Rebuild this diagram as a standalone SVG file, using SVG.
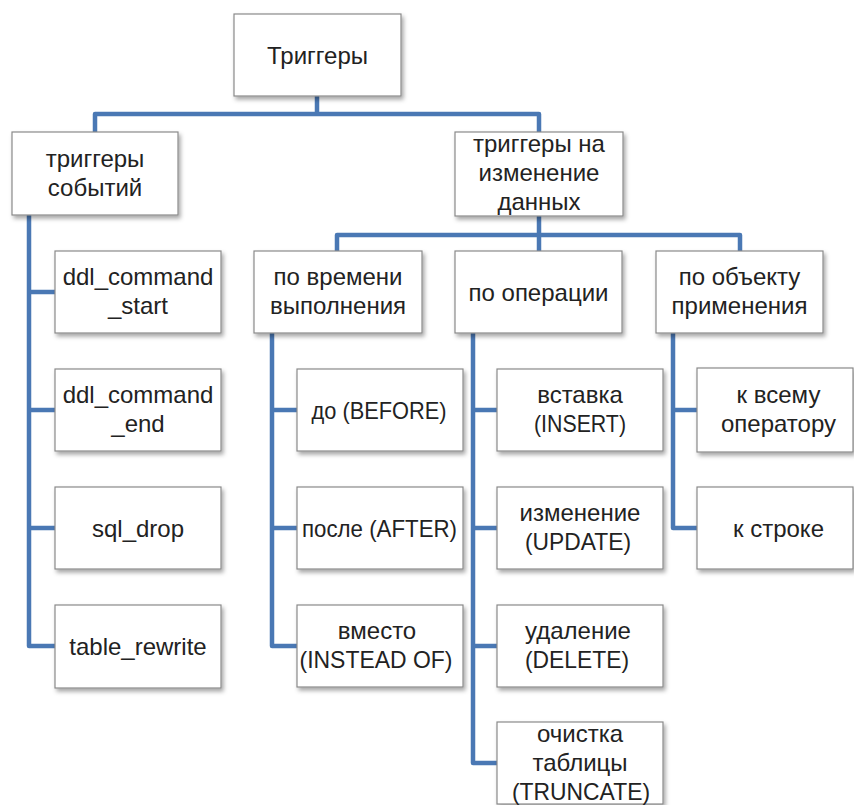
<svg xmlns="http://www.w3.org/2000/svg" width="854" height="805" viewBox="0 0 854 805">
  <defs>
    <filter id="shadow" x="-10%" y="-10%" width="130%" height="140%">
      <feDropShadow dx="2" dy="3" stdDeviation="2" flood-color="#000" flood-opacity="0.35"/>
    </filter>
  </defs>
  <style>
    .box { fill: #ffffff; stroke: #8a8a8a; stroke-width: 1.2; filter: url(#shadow); }
    .lbl { font-family: "Liberation Sans", Arial, sans-serif; font-size: 24px; fill: #222222; text-anchor: middle; }
    .conn { fill: none; stroke: #4a78b4; stroke-width: 4.5; stroke-linejoin: round; stroke-linecap: butt; }
  </style>
  <rect width="854" height="805" fill="#ffffff"/>

  <!-- connectors -->
  <g id="connectors">
    <!-- root to two branches -->
    <path class="conn" d="M317 96 V114"/>
    <path class="conn" d="M95 132 V114 H539 V132"/>
    <!-- event triggers -->
    <path class="conn" d="M29 215 V646 H55"/>
    <path class="conn" d="M29 292 H55 M29 410 H55 M29 528 H55"/>
    <!-- data-change triggers to three categories -->
    <path class="conn" d="M539 216 V251"/>
    <path class="conn" d="M337 251 V235 H740 V251"/>
    <!-- by execution time -->
    <path class="conn" d="M272 333 V646 H297"/>
    <path class="conn" d="M272 410 H297 M272 528 H297"/>
    <!-- by operation -->
    <path class="conn" d="M473 333 V763 H497"/>
    <path class="conn" d="M473 410 H497 M473 528 H497 M473 646 H497"/>
    <!-- by application object -->
    <path class="conn" d="M673 333 V528 H697"/>
    <path class="conn" d="M673 410 H697"/>
  </g>

  <g id="root">
    <rect class="box" x="234" y="14" width="167" height="82"/>
    <text class="lbl" x="317.5" y="63.5">Триггеры</text>
  </g>

  <g id="event-triggers">
    <rect class="box" x="12" y="132" width="166" height="83"/>
    <text class="lbl" x="95" y="166.5">триггеры</text>
    <text class="lbl" x="95" y="195.5">событий</text>
  </g>

  <g id="data-triggers">
    <rect class="box" x="455" y="132" width="168" height="84"/>
    <text class="lbl" x="539" y="152">триггеры на</text>
    <text class="lbl" x="539" y="181">изменение</text>
    <text class="lbl" x="539" y="210">данных</text>
  </g>

  <g id="ddl-command-start">
    <rect class="box" x="55" y="251" width="166" height="82"/>
    <text class="lbl" x="138" y="285">ddl_command</text>
    <text class="lbl" x="138" y="314">_start</text>
  </g>
  <g id="ddl-command-end">
    <rect class="box" x="55" y="369" width="166" height="82"/>
    <text class="lbl" x="138" y="403">ddl_command</text>
    <text class="lbl" x="138" y="432">_end</text>
  </g>
  <g id="sql-drop">
    <rect class="box" x="55" y="487" width="166" height="82"/>
    <text class="lbl" x="138" y="536.5">sql_drop</text>
  </g>
  <g id="table-rewrite">
    <rect class="box" x="55" y="605" width="166" height="83"/>
    <text class="lbl" x="138" y="654.5">table_rewrite</text>
  </g>

  <g id="by-time">
    <rect class="box" x="254" y="251" width="168" height="82"/>
    <text class="lbl" x="338" y="285">по времени</text>
    <text class="lbl" x="338" y="314">выполнения</text>
  </g>
  <g id="by-operation">
    <rect class="box" x="455" y="251" width="167" height="82"/>
    <text class="lbl" x="538.5" y="300.5">по операции</text>
  </g>
  <g id="by-object">
    <rect class="box" x="656" y="251" width="167" height="82"/>
    <text class="lbl" x="739.5" y="285">по объекту</text>
    <text class="lbl" x="739.5" y="314">применения</text>
  </g>

  <g id="before">
    <rect class="box" x="297" y="369" width="166" height="82"/>
    <text class="lbl" x="379" y="418.5" textLength="135" lengthAdjust="spacingAndGlyphs">до (BEFORE)</text>
  </g>
  <g id="after">
    <rect class="box" x="297" y="487" width="166" height="82"/>
    <text class="lbl" x="379.5" y="536.5" textLength="155" lengthAdjust="spacingAndGlyphs">после (AFTER)</text>
  </g>
  <g id="instead-of">
    <rect class="box" x="297" y="605" width="166" height="82"/>
    <text class="lbl" x="377" y="639">вместо</text>
    <text class="lbl" x="376" y="668" textLength="153" lengthAdjust="spacingAndGlyphs">(INSTEAD OF)</text>
  </g>

  <g id="insert">
    <rect class="box" x="497" y="369" width="166" height="82"/>
    <text class="lbl" x="580" y="403">вставка</text>
    <text class="lbl" x="580" y="432" textLength="92" lengthAdjust="spacingAndGlyphs">(INSERT)</text>
  </g>
  <g id="update">
    <rect class="box" x="497" y="487" width="166" height="82"/>
    <text class="lbl" x="580" y="521">изменение</text>
    <text class="lbl" x="578" y="550" textLength="106" lengthAdjust="spacingAndGlyphs">(UPDATE)</text>
  </g>
  <g id="delete">
    <rect class="box" x="497" y="605" width="166" height="82"/>
    <text class="lbl" x="578" y="639">удаление</text>
    <text class="lbl" x="577" y="668" textLength="104" lengthAdjust="spacingAndGlyphs">(DELETE)</text>
  </g>
  <g id="truncate">
    <rect class="box" x="497" y="722" width="166" height="82"/>
    <text class="lbl" x="580" y="742">очистка</text>
    <text class="lbl" x="580" y="771">таблицы</text>
    <text class="lbl" x="581" y="800" textLength="138" lengthAdjust="spacingAndGlyphs">(TRUNCATE)</text>
  </g>

  <g id="whole-statement">
    <rect class="box" x="697" y="368" width="156" height="84"/>
    <text class="lbl" x="778.5" y="403">к всему</text>
    <text class="lbl" x="778.5" y="432">оператору</text>
  </g>
  <g id="per-row">
    <rect class="box" x="697" y="487" width="156" height="82"/>
    <text class="lbl" x="778.5" y="536.5">к строке</text>
  </g>
</svg>
